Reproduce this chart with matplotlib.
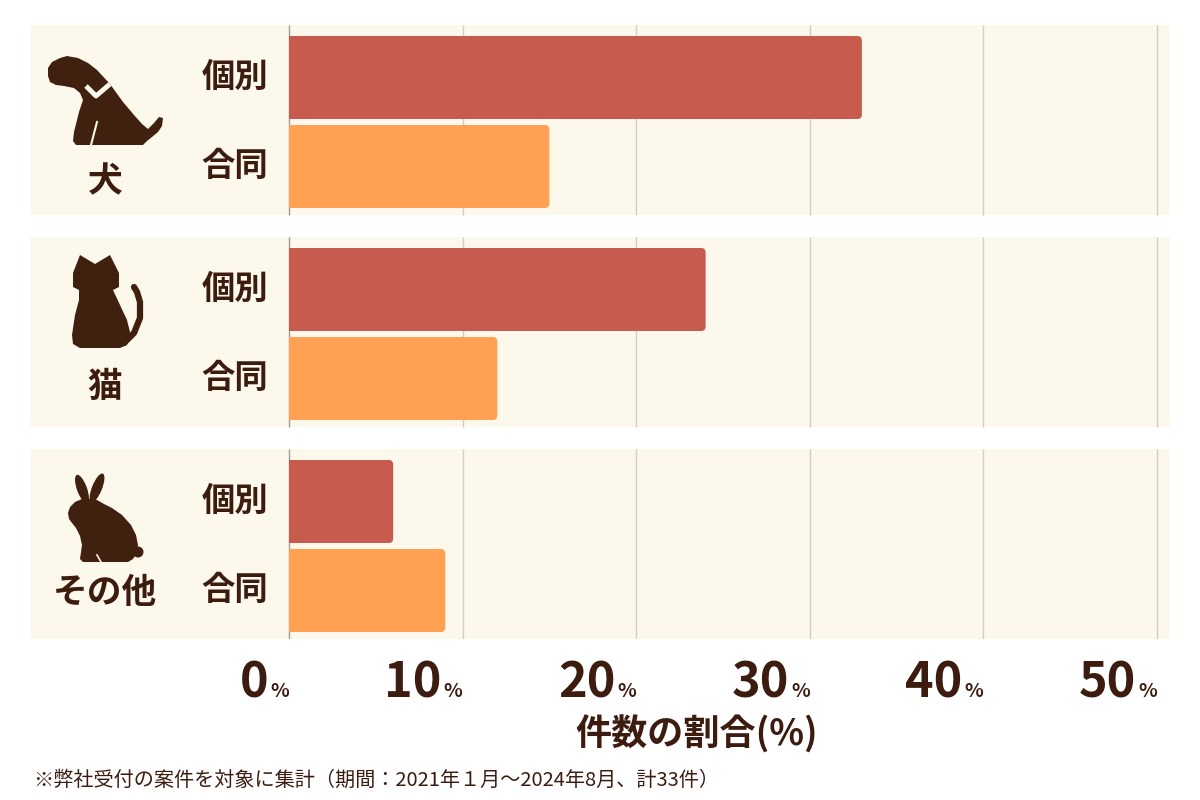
import matplotlib
matplotlib.use('Agg')
import matplotlib.pyplot as plt
from matplotlib.patches import Rectangle, FancyBboxPatch, Polygon, Ellipse, Circle
from matplotlib.transforms import offset_copy

plt.rcParams['font.family'] = ['Noto Sans CJK JP', 'DejaVu Sans']

# データ（件数の割合 %）
groups = ['犬', '猫', 'その他']
kinds = ['個別', '合同']
kobetsu = [33, 24, 6]
goudou = [15, 12, 9]
ticks = [0, 10, 20, 30, 40, 50]
xlabel = '件数の割合(%)'
note = '※弊社受付の案件を対象に集計（期間：2021年１月～2024年8月、計33件）'

TXT = '#3d1c10'
ICON = '#40200f'
BG = '#fdf8ec'
C_KOBETSU = '#c75c4e'
C_GOUDOU = '#ffa053'

W, H = 1200, 800
PXU = 17.36          # 1% あたりのピクセル
X0 = 289             # 0% の位置
def xd(px):
    return (px - X0) / PXU

fig = plt.figure(figsize=(12, 8), dpi=100)
ax = fig.add_axes([30 / W, 1 - 639 / H, 1140 / W, 614 / H])
ax.set_xlim(xd(30), xd(1170))
ax.set_ylim(639, 25)
ax.axis('off')

pitch, ph = 212, 190
tops = [25 + i * pitch for i in range(len(groups))]
c1 = [t + 52.5 for t in tops]
c2 = [t + 141.5 for t in tops]

for t in tops:
    ax.add_patch(Rectangle((xd(30), t), xd(1170) - xd(30), ph, color=BG, zorder=0, lw=0))
    for tk in ticks[1:]:
        ax.vlines(tk, t, t + ph, color='#d2cdc3', lw=1, zorder=1)
    ax.vlines(0, t, t + ph, color='#a09b94', lw=1, zorder=1)

def rounded(bars):
    for b in bars:
        x, y = b.get_xy()
        w, h = b.get_width(), b.get_height()
        rx = 4.5 / PXU
        p = FancyBboxPatch((x - rx, y), w + rx, h,
                           boxstyle=f'round,pad=0,rounding_size={rx}',
                           mutation_aspect=PXU, color=b.get_facecolor(), lw=0, zorder=2)
        ax.add_patch(p)
        p.set_clip_path(Rectangle((x, y - 1), w + 1, h + 2, transform=ax.transData))
        b.remove()

rounded(ax.barh(c1, kobetsu, height=83, color=C_KOBETSU))
rounded(ax.barh(c2, goudou, height=83, color=C_GOUDOU))

for i in range(len(groups)):
    ax.text(xd(268), c1[i], kinds[0], ha='right', va='center', fontsize=24,
            fontweight='bold', color=TXT)
    ax.text(xd(268), c2[i], kinds[1], ha='right', va='center', fontsize=24,
            fontweight='bold', color=TXT)

label_off = [157, 149, 143]
for i, g in enumerate(groups):
    ax.text(xd(105), tops[i] + label_off[i], g, ha='center', va='center',
            fontsize=25, fontweight='bold', color=TXT)

# 目盛りラベル（数字＋小さい%）
num_tr = offset_copy(ax.transData, fig=fig, x=-21, y=0, units='dots')
for tk in ticks:
    ax.text(tk, 697, '%', ha='right', va='baseline', fontsize=14,
            fontweight='bold', color=TXT, clip_on=False)
    ax.text(tk, 697, str(tk), ha='right', va='baseline', fontsize=35,
            fontweight='bold', color=TXT, clip_on=False, transform=num_tr)

fig.text(697 / W, 1 - 735 / H, xlabel, ha='center', va='center', fontsize=26,
         fontweight='bold', color=TXT)
fig.text(33 / W, 1 - 780 / H, note, ha='left', va='center', fontsize=14.5, color=TXT)


def icon_ax(x0, y0, x1, y1):
    a = fig.add_axes([x0 / W, 1 - y1 / H, (x1 - x0) / W, (y1 - y0) / H])
    a.set_xlim(x0, x1)
    a.set_ylim(y1, y0)
    a.axis('off')
    return a

# 犬
a = icon_ax(40, 35, 170, 150)
dog = [(48, 68), (52, 62), (60, 58), (67, 56), (78, 58), (88, 63), (97, 70), (110, 84),
       (123, 102), (134, 115), (142, 124), (148, 129), (154, 123), (159, 117), (163, 118),
       (162, 126), (158, 132), (152, 137), (147, 141), (143, 145), (76, 145), (73, 141),
       (74, 132), (79, 112), (83, 100), (80, 93), (74, 88), (64, 86), (56, 85), (50, 82),
       (48, 76)]
a.add_patch(Polygon(dog, closed=True, color=ICON, lw=0))
a.plot([86, 96, 110], [86, 96, 84], color=BG, lw=3.5, solid_capstyle='butt')
a.plot([97, 91], [122, 145], color=BG, lw=1.5)

# 猫
a = icon_ax(60, 245, 150, 355)
cat = [(73, 287), (73, 273), (80, 255), (95, 264), (110, 255), (119, 273), (119, 287),
       (113, 290), (120, 305), (127, 320), (130, 332), (127, 345), (120, 348), (80, 348),
       (73, 344), (72, 335), (75, 315), (79, 300), (79, 290)]
a.add_patch(Polygon(cat, closed=True, color=ICON, lw=0))
a.plot([124, 134, 140, 140, 137, 134], [343, 333, 318, 302, 292, 287], color=ICON, lw=4.5,
       solid_capstyle='round', solid_joinstyle='round')

# うさぎ
a = icon_ax(60, 465, 150, 570)
a.add_patch(Ellipse((82, 489), 10, 30, angle=-20, color=ICON, lw=0))
a.add_patch(Ellipse((97, 488), 10, 31, angle=22, color=ICON, lw=0))
rabbit = [(68, 513), (70, 507), (75, 502), (82, 499), (90, 499), (97, 500), (104, 504),
          (112, 508), (122, 515), (131, 525), (136, 535), (138, 545), (137, 553),
          (133, 559), (128, 562), (83, 562), (80, 559), (81, 552), (82, 545), (80, 536),
          (76, 528), (72, 523), (69, 519)]
a.add_patch(Polygon(rabbit, closed=True, color=ICON, lw=0))
a.add_patch(Circle((138, 552), 5.5, color=ICON, lw=0))
a.plot([97, 101], [555, 562], color=BG, lw=1.2)

fig.savefig('out.png', dpi=100, facecolor='white')
